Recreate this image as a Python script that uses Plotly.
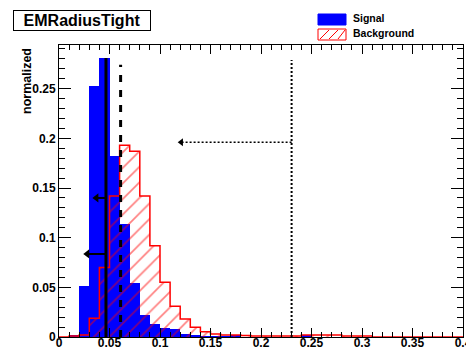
import plotly.graph_objects as go

# ---- data ----
bin_width = 0.01
bin_lefts = [round(i * 0.01, 2) for i in range(40)]
signal = [0, 0.002, 0.051, 0.253, 0.281, 0.182, 0.1135, 0.054, 0.022, 0.013,
          0.009, 0.008, 0.003, 0.002, 0.001, 0.001, 0.001, 0.002, 0, 0,
          0, 0, 0, 0, 0.002, 0, 0, 0, 0, 0,
          0, 0, 0, 0, 0, 0, 0, 0, 0, 0]
background = [0, 0.001, 0.002, 0.019, 0.070, 0.142, 0.193, 0.187, 0.142, 0.092,
              0.055, 0.031, 0.018, 0.0098, 0.0053, 0.003, 0.002, 0.002, 0.0015, 0.001,
              0.001, 0.001, 0.001, 0.001, 0.002, 0.002, 0.002, 0.002, 0.001, 0.001,
              0.001, 0, 0, 0, 0, 0, 0, 0, 0, 0]
x_tickvals = [0, 0.05, 0.1, 0.15, 0.2, 0.25, 0.3, 0.35, 0.4]
x_ticktext = ["0", "0.05", "0.1", "0.15", "0.2", "0.25", "0.3", "0.35", "0.4"]
y_tickvals = [0, 0.05, 0.1, 0.15, 0.2, 0.25]
y_ticktext = ["0", "0.05", "0.1", "0.15", "0.2", "0.25"]

# cut lines: (x position, top)
cut_solid = (0.0465, 0.281)
cut_dashed = (0.061, 0.274)
cut_dotted = (0.2303, 0.279)
# arrows: (level, start x, tip x)
arrows_solid = [(0.140, 0.0465, 0.034), (0.0836, 0.0465, 0.025)]
arrow_dotted = (0.196, 0.2303, 0.118)

x_range = [0, 0.4]
y_range = [0, 0.294]

FONT = "Liberation Sans"

fig = go.Figure()
centers = [l + bin_width / 2 for l in bin_lefts]

fig.add_trace(go.Bar(x=centers, y=signal, width=bin_width,
                     marker=dict(color="#0000ff", line=dict(width=0)),
                     showlegend=False))
fig.add_trace(go.Bar(x=centers, y=background, width=bin_width,
                     marker=dict(color="rgba(0,0,0,0)", line=dict(width=0),
                                 pattern=dict(shape="/", fgcolor="#ff0000",
                                              bgcolor="rgba(0,0,0,0)",
                                              size=11, solidity=0.15)),
                     showlegend=False))
# background outline (step)
step_x = bin_lefts + [bin_lefts[-1] + bin_width]
step_y = background + [background[-1]]
fig.add_trace(go.Scatter(x=step_x, y=step_y, mode="lines",
                         line=dict(color="#ff0000", width=1.5, shape="hv"),
                         showlegend=False, hoverinfo="skip"))

# cut lines
fig.add_trace(go.Scatter(x=[cut_solid[0], cut_solid[0]], y=[0, cut_solid[1]],
                         mode="lines", line=dict(color="black", width=3),
                         showlegend=False))
fig.add_trace(go.Scatter(x=[cut_dashed[0], cut_dashed[0]], y=[0, cut_dashed[1]],
                         mode="lines", line=dict(color="black", width=3, dash="7px,8px"),
                         showlegend=False))
fig.add_trace(go.Scatter(x=[cut_dotted[0], cut_dotted[0]], y=[0, cut_dotted[1]],
                         mode="lines", line=dict(color="black", width=2, dash="2px,2px"),
                         showlegend=False))
for lvl, x0, x1 in arrows_solid:
    fig.add_trace(go.Scatter(x=[x0, x1 + 0.003], y=[lvl, lvl], mode="lines",
                             line=dict(color="black", width=2),
                             showlegend=False))
    fig.add_trace(go.Scatter(x=[x1 + 0.003], y=[lvl], mode="markers",
                             marker=dict(symbol="triangle-left", size=8, color="black",
                                         line=dict(color="black", width=0)),
                             showlegend=False))
lvl, x0, x1 = arrow_dotted
fig.add_trace(go.Scatter(x=[x0, x1 + 0.003], y=[lvl, lvl], mode="lines",
                         line=dict(color="black", width=1.5, dash="2px,2px"),
                         showlegend=False))
fig.add_trace(go.Scatter(x=[x1 + 0.003], y=[lvl], mode="markers",
                         marker=dict(symbol="triangle-left", size=7, color="black",
                                     line=dict(color="black", width=0)),
                         showlegend=False))

# layout geometry (pixels)
L, R, T, B = 59, 3, 45, 12
W, H = 466, 349
pw, ph = W - L - R, H - T - B


def px(xp):
    return (xp - L) / pw


def py(yp):
    return (H - B - yp) / ph


shapes = []
# legend boxes
shapes.append(dict(type="rect", xref="paper", yref="paper",
                   x0=px(318), x1=px(346), y0=py(25), y1=py(14),
                   fillcolor="#0000ff", line=dict(color="#0000ff", width=1)))
shapes.append(dict(type="rect", xref="paper", yref="paper",
                   x0=px(318), x1=px(346), y0=py(40), y1=py(29),
                   fillcolor="white", line=dict(color="#ff0000", width=1)))
for k in range(3):
    xa = 318 + 2 + k * 9
    shapes.append(dict(type="line", xref="paper", yref="paper",
                       x0=px(xa), y0=py(39), x1=px(min(xa + 9, 345)), y1=py(30),
                       line=dict(color="#ff0000", width=1)))

annotations = [
    dict(text="EMRadiusTight", xref="paper", yref="paper",
         x=px(81.5), y=py(20.5), xanchor="center", yanchor="middle",
         showarrow=False, font=dict(family=FONT, size=16, color="black", weight="bold"),
         bordercolor="black", borderwidth=1, borderpad=1, width=134, height=17,
         bgcolor="white"),
    dict(text="normalized", xref="paper", yref="paper",
         x=px(27), y=py(46), xanchor="center", yanchor="top", textangle=-90,
         showarrow=False, font=dict(family=FONT, size=12.5, color="black", weight="bold")),
    dict(text="Signal", xref="paper", yref="paper", x=px(351), y=py(18),
         xanchor="left", yanchor="middle", showarrow=False,
         font=dict(family=FONT, size=10.5, color="black", weight="bold")),
    dict(text="Background", xref="paper", yref="paper", x=px(351), y=py(33),
         xanchor="left", yanchor="middle", showarrow=False,
         font=dict(family=FONT, size=10.5, color="black", weight="bold")),
]

fig.update_layout(
    width=W, height=H,
    margin=dict(l=L, r=R, t=T, b=B, pad=0, autoexpand=False),
    paper_bgcolor="white", plot_bgcolor="white",
    barmode="overlay", bargap=0,
    showlegend=False,
    shapes=shapes, annotations=annotations,
    xaxis=dict(range=x_range, showgrid=False, zeroline=False, automargin=False,
               showline=True, linecolor="black", linewidth=1, mirror="allticks",
               ticks="inside", ticklen=9, tickcolor="black", tickwidth=1,
               tickvals=x_tickvals, ticktext=x_ticktext,
               ticklabelstandoff=-5, ticklabeloverflow="allow",
               tickfont=dict(family=FONT, size=12, color="black", weight="bold"),
               minor=dict(dtick=0.01, tick0=0, ticks="inside", ticklen=5,
                          tickcolor="black", tickwidth=1, showgrid=False)),
    yaxis=dict(range=y_range, showgrid=False, zeroline=False, automargin=False,
               showline=True, linecolor="black", linewidth=1, mirror="allticks",
               ticks="inside", ticklen=12, tickcolor="black", tickwidth=1,
               tickvals=y_tickvals, ticktext=y_ticktext,
               tickfont=dict(family=FONT, size=12, color="black", weight="bold"),
               minor=dict(dtick=0.01, tick0=0, ticks="inside", ticklen=6,
                          tickcolor="black", tickwidth=1, showgrid=False)),
)

fig.write_html("out.html")
